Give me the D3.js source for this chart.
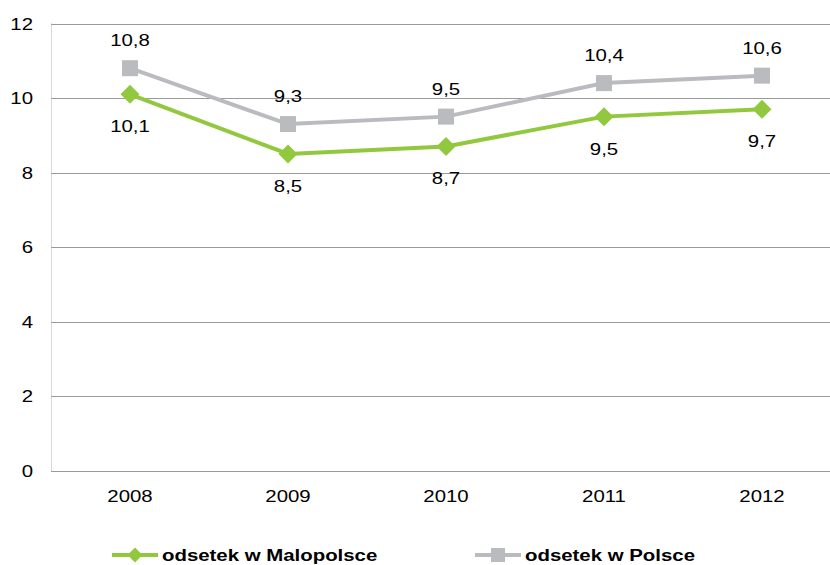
<!DOCTYPE html>
<html><head><meta charset="utf-8">
<script src="https://cdn.jsdelivr.net/npm/d3@7"></script>
<style>body{margin:0;background:#fff;} svg{display:block;font-family:"Liberation Sans",Arial,sans-serif;}</style>
</head><body>
<script>
const years = ["2008","2009","2010","2011","2012"];
const malopolska = [10.1, 8.5, 8.7, 9.5, 9.7];
const polska = [10.8, 9.3, 9.5, 10.4, 10.6];
const yTicks = [0,2,4,6,8,10,12];
const seriesNames = ["odsetek w Malopolsce","odsetek w Polsce"];

(function(){
const W=830,H=565, SX=1.2;
const svg=d3.select("body").append("svg").attr("width",W).attr("height",H);
const pl=51, pr=841, pt=23.5, pb=470.5;
const x=d3.scaleBand().domain(years).range([pl,pr]);
const y=d3.scaleLinear().domain([0,12]).range([pb,pt]);
const cx=d=>x(d)+x.bandwidth()/2;
const tf=(px,py)=>`translate(${px},${py}) scale(${SX},1)`;

// gridlines
svg.append("g").selectAll("line").data(yTicks).join("line")
  .attr("x1",pl).attr("x2",W).attr("y1",d=>Math.round(y(d))+0.5).attr("y2",d=>Math.round(y(d))+0.5)
  .attr("stroke","#9a9a9a").attr("stroke-width",1);
// left axis dotted
svg.append("line").attr("x1",pl+0.5).attr("x2",pl+0.5).attr("y1",pt).attr("y2",pb)
  .attr("stroke","#b0b0b0").attr("stroke-dasharray","1,1");
// y tick labels
svg.append("g").selectAll("text").data(yTicks).join("text")
  .attr("transform",d=>tf(33,y(d)+6)).attr("text-anchor","end").attr("font-size",17).text(d=>d);
// x tick labels
svg.append("g").selectAll("text").data(years).join("text")
  .attr("transform",d=>tf(cx(d),502)).attr("text-anchor","middle").attr("font-size",17).text(d=>d);

const green="#92c83e", gray="#b9bbbe";
const line=d3.line().x((d,i)=>cx(years[i])).y(d=>y(d));
const fmt=v=>String(v.toFixed(1)).replace(".",",");

// Polska
svg.append("path").attr("d",line(polska)).attr("fill","none").attr("stroke",gray).attr("stroke-width",4);
svg.append("g").selectAll("rect").data(polska).join("rect")
  .attr("x",(d,i)=>cx(years[i])-8).attr("y",d=>y(d)-8).attr("width",16).attr("height",16).attr("fill",gray);
// Malopolska
svg.append("path").attr("d",line(malopolska)).attr("fill","none").attr("stroke",green).attr("stroke-width",4);
const diamond=(px,py,r)=>`M${px},${py-r}L${px+r},${py}L${px},${py+r}L${px-r},${py}Z`;
svg.append("g").selectAll("path").data(malopolska).join("path")
  .attr("d",(d,i)=>diamond(cx(years[i]),y(d),9.5)).attr("fill",green);

// data labels
svg.append("g").selectAll("text").data(polska).join("text")
  .attr("transform",(d,i)=>tf(cx(years[i]),y(d)-22)).attr("text-anchor","middle").attr("font-size",17).text(fmt);
svg.append("g").selectAll("text").data(malopolska).join("text")
  .attr("transform",(d,i)=>tf(cx(years[i]),y(d)+38)).attr("text-anchor","middle").attr("font-size",17).text(fmt);

// legend
const leg=[{x:112,c:green,t:"diamond"},{x:475,c:gray,t:"square"}];
leg.forEach((l,i)=>{
  const g=svg.append("g");
  g.append("line").attr("x1",l.x).attr("x2",l.x+46).attr("y1",555).attr("y2",555).attr("stroke",l.c).attr("stroke-width",4);
  if(l.t==="diamond") g.append("path").attr("d",diamond(l.x+23,555,7.5)).attr("fill",l.c);
  else g.append("rect").attr("x",l.x+16).attr("y",548).attr("width",14).attr("height",14).attr("fill",l.c);
  g.append("text").attr("transform",tf(l.x+50,561)).attr("font-size",17).attr("font-weight","bold").text(seriesNames[i]);
});
})();
</script>
</body></html>
